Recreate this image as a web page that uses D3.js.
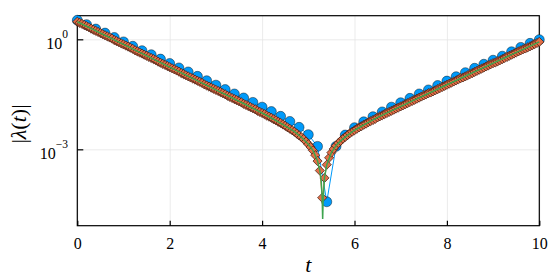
<!DOCTYPE html>
<html>
<head>
<meta charset="utf-8">
<script src="https://cdn.jsdelivr.net/npm/d3@7"></script>
<style>
  body { margin: 0; background: #fff; }
  svg { display: block; }
  text { font-family: "Liberation Serif", "DejaVu Serif", serif; fill: #000; }
</style>
</head>
<body>
<svg id="chart" width="556" height="278"></svg>
<script>
// t grids
let tBlue = d3.range(51).map(i => i * 0.2)
let tDiamond = d3.range(201).map(i => i * 0.05)

// log10 |lambda| for blue circles (t = 0, 0.2, ..., 10)
let blueLog10 = [
  0.52, 0.40, 0.28, 0.17, 0.05, -0.07, -0.19, -0.31, -0.42, -0.54,
  -0.66, -0.78, -0.89, -1.01, -1.13, -1.25, -1.37, -1.49, -1.60, -1.72,
  -1.85, -1.97, -2.10, -2.24, -2.40, -2.60, -2.92, -4.43, -2.92, -2.61,
  -2.41, -2.25, -2.11, -1.98, -1.85, -1.73, -1.61, -1.49, -1.38, -1.26,
  -1.14, -1.02, -0.91, -0.79, -0.68, -0.57, -0.46, -0.34, -0.22, -0.11,
  -0.01
]

// log10 |lambda| for diamonds (t = 0, 0.05, ..., 10)
let diamondLog10 = [
  0.48, 0.45, 0.42, 0.39, 0.36, 0.33, 0.29, 0.26, 0.23, 0.20, 0.17, 0.14, 0.11, 0.08, 0.05, 0.02, -0.02, -0.05, -0.08, -0.11,
  -0.14, -0.17, -0.20, -0.23, -0.26, -0.30, -0.33, -0.36, -0.39, -0.42, -0.45, -0.48, -0.51, -0.54, -0.57, -0.61, -0.64, -0.67, -0.70, -0.73,
  -0.76, -0.79, -0.82, -0.85, -0.88, -0.92, -0.95, -0.98, -1.01, -1.04, -1.07, -1.10, -1.13, -1.16, -1.19, -1.23, -1.26, -1.29, -1.32, -1.35,
  -1.38, -1.41, -1.44, -1.47, -1.50, -1.54, -1.57, -1.60, -1.63, -1.66, -1.69, -1.72, -1.76, -1.79, -1.82, -1.85, -1.88, -1.91, -1.95, -1.98,
  -2.01, -2.04, -2.08, -2.11, -2.14, -2.18, -2.21, -2.25, -2.28, -2.32, -2.36, -2.40, -2.44, -2.48, -2.52, -2.57, -2.62, -2.67, -2.72, -2.79,
  -2.86, -2.94, -3.03, -3.16, -3.32, -3.58, -4.32, -3.78, -3.42, -3.23, -3.09, -2.99, -2.90, -2.83, -2.77, -2.71, -2.66, -2.61, -2.56, -2.52,
  -2.48, -2.44, -2.40, -2.37, -2.33, -2.30, -2.26, -2.23, -2.20, -2.17, -2.13, -2.10, -2.07, -2.04, -2.01, -1.98, -1.95, -1.92, -1.89, -1.86,
  -1.83, -1.80, -1.77, -1.74, -1.71, -1.68, -1.65, -1.62, -1.59, -1.56, -1.53, -1.50, -1.47, -1.45, -1.42, -1.39, -1.36, -1.33, -1.30, -1.27,
  -1.24, -1.21, -1.18, -1.15, -1.12, -1.09, -1.06, -1.04, -1.01, -0.98, -0.95, -0.92, -0.89, -0.86, -0.83, -0.80, -0.77, -0.74, -0.71, -0.68,
  -0.65, -0.63, -0.60, -0.57, -0.54, -0.51, -0.48, -0.45, -0.42, -0.39, -0.36, -0.33, -0.30, -0.27, -0.25, -0.22, -0.19, -0.16, -0.13, -0.10,
  -0.07
]

// green reference line
let tGreen = [0, 1, 2, 3, 3.5, 4, 4.25, 4.5, 4.7, 4.85, 5.0, 5.1, 5.2, 5.25, 5.28, 5.3, 5.311, 5.32, 5.35, 5.4, 5.5, 5.6, 5.7, 5.8, 6.0, 6.25, 6.5, 7, 8, 9, 10]
let greenLog10 = [0.48, -0.14, -0.76, -1.38, -1.69, -2.01, -2.18, -2.36, -2.52, -2.67, -2.86, -3.03, -3.32, -3.58, -3.87, -4.32, -4.90, -4.43, -3.78, -3.42, -3.09, -2.90, -2.77, -2.66, -2.48, -2.30, -2.13, -1.83, -1.24, -0.65, -0.07]

let xTicks = [0, 2, 4, 6, 8, 10]
let yTickExps = [0, -3]

let svg = d3.select('#chart')

let pLeft = 77.3, pRight = 539.3, pTop = 15.7, pBottom = 225.7

let x = d3.scaleLinear().domain([0, 10]).range([pLeft, pRight])
let y = d3.scaleLog().domain([Math.pow(10, -5.083), Math.pow(10, 0.644)]).range([pBottom, pTop])

// grid
svg.append('g')
  .attr('transform', 'translate(0,' + pBottom + ')')
  .call(d3.axisBottom(x).tickValues(xTicks).tickSize(-(pBottom - pTop)).tickFormat(''))
  .call(g => g.select('.domain').remove())
  .call(g => g.selectAll('line').attr('stroke', '#e6e6e6').attr('stroke-width', 0.8))

svg.append('g')
  .attr('transform', 'translate(' + pLeft + ',0)')
  .call(d3.axisLeft(y).tickValues(yTickExps.map(e => Math.pow(10, e))).tickSize(-(pRight - pLeft)).tickFormat(''))
  .call(g => g.select('.domain').remove())
  .call(g => g.selectAll('line').attr('stroke', '#e6e6e6').attr('stroke-width', 0.8))

// frame
svg.append('rect')
  .attr('x', pLeft).attr('y', pTop)
  .attr('width', pRight - pLeft).attr('height', pBottom - pTop)
  .attr('fill', 'none').attr('stroke', '#000').attr('stroke-width', 1.2)

// x axis
svg.append('g')
  .attr('transform', 'translate(0,' + pBottom + ')')
  .call(d3.axisBottom(x).tickValues(xTicks).tickSizeInner(-5).tickSizeOuter(0).tickPadding(12).tickFormat(d3.format('d')))
  .call(g => g.select('.domain').remove())
  .call(g => g.selectAll('line').attr('stroke', '#000').attr('stroke-width', 1.2))
  .call(g => g.selectAll('text').attr('font-size', 16).attr('font-family', '"Liberation Serif", serif'))

// y axis ticks
svg.append('g')
  .attr('transform', 'translate(' + pLeft + ',0)')
  .call(d3.axisLeft(y).tickValues(yTickExps.map(e => Math.pow(10, e))).tickSizeInner(-6).tickSizeOuter(0).tickFormat(''))
  .call(g => g.select('.domain').remove())
  .call(g => g.selectAll('line').attr('stroke', '#000').attr('stroke-width', 1.2))

// y tick labels 10^e
yTickExps.forEach(e => {
  let yy = y(Math.pow(10, e))
  let t = svg.append('text')
    .attr('x', 68).attr('y', yy + 9.5)
    .attr('text-anchor', 'end')
    .attr('font-size', 16)
  t.append('tspan').text('10')
  t.append('tspan').attr('dy', -11).attr('font-size', 11.5)
    .text(e < 0 ? '\u2212' + (-e) : String(e))
})

// axis labels
svg.append('text')
  .attr('x', (pLeft + pRight) / 2).attr('y', 272)
  .attr('text-anchor', 'middle')
  .attr('font-size', 22).attr('font-style', 'italic')
  .text('t')

let yl = svg.append('text')
  .attr('transform', 'translate(26,124) rotate(-90)')
  .attr('text-anchor', 'middle')
  .attr('font-size', 22)
yl.append('tspan').text('|')
yl.append('tspan').attr('font-style', 'italic').text('λ')
yl.append('tspan').text('(')
yl.append('tspan').attr('font-style', 'italic').text('t')
yl.append('tspan').text(')|')

// series
let blueData = tBlue.map((t, i) => [t, Math.pow(10, blueLog10[i])])
let diamondData = tDiamond.map((t, i) => [t, Math.pow(10, diamondLog10[i])])
let greenData = tGreen.map((t, i) => [t, Math.pow(10, greenLog10[i])])

let line = d3.line().x(d => x(d[0])).y(d => y(d[1]))

svg.append('path').datum(blueData)
  .attr('d', line).attr('fill', 'none')
  .attr('stroke', '#009AFA').attr('stroke-width', 1)

svg.append('g').selectAll('circle')
  .data(blueData)
  .enter()
  .append('circle')
  .attr('cx', d => x(d[0]))
  .attr('cy', d => y(d[1]))
  .attr('r', 5)
  .attr('fill', '#009AFA')
  .attr('stroke', 'rgba(0,0,0,0.7)')
  .attr('stroke-width', 0.6)

svg.append('path').datum(diamondData)
  .attr('d', line).attr('fill', 'none')
  .attr('stroke', '#E36F47').attr('stroke-width', 1)

let diamondShape = d3.symbol().type(d3.symbolSquare).size(42)
svg.append('g').selectAll('path')
  .data(diamondData)
  .enter()
  .append('path')
  .attr('d', diamondShape)
  .attr('transform', d => 'translate(' + x(d[0]) + ',' + y(d[1]) + ') rotate(45)')
  .attr('fill', '#E36F47')
  .attr('stroke', 'rgba(50,18,8,0.9)')
  .attr('stroke-width', 0.7)

svg.append('path').datum(greenData)
  .attr('d', line).attr('fill', 'none')
  .attr('stroke', '#3EA44E').attr('stroke-width', 1.5)
</script>
</body>
</html>
